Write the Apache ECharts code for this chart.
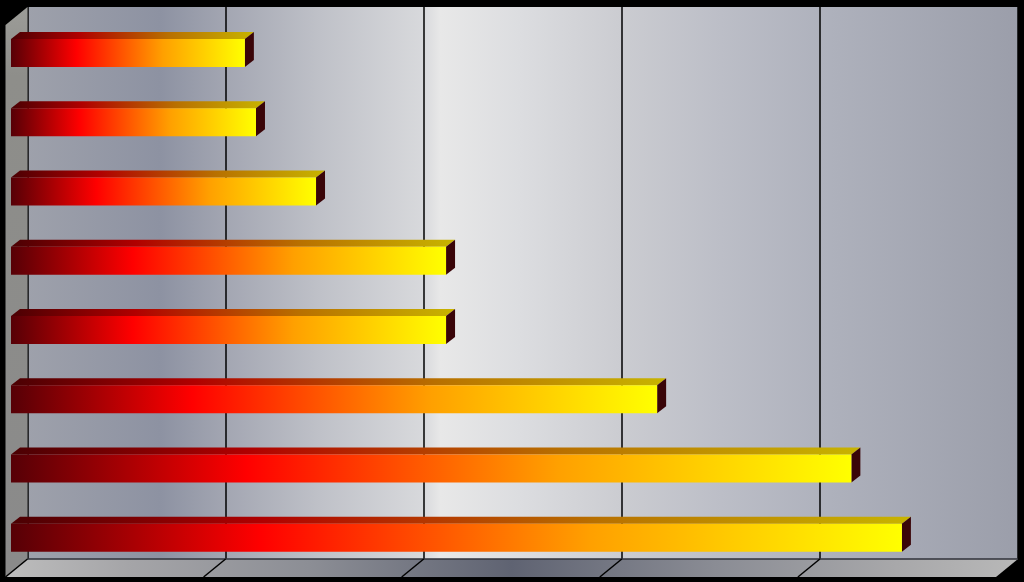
<!DOCTYPE html>
<html><head><meta charset="utf-8">
<style>html,body{margin:0;padding:0;background:#000}#c{width:1024px;height:582px}</style>
<script src="https://cdn.jsdelivr.net/npm/echarts@6/dist/echarts.min.js"></script>
</head><body><div id="c"></div>
<script>
const categories = ['H','G','F','E','D','C','B','A'];
const values = [1.18, 1.236, 1.539, 2.195, 2.195, 3.26, 4.24, 4.495];
const axisMin = 0, axisMax = 5, axisStep = 1;
const tickValues = [0, 1, 2, 3, 4, 5];

const lg = (x0,y0,x1,y1,stops)=>new echarts.graphic.LinearGradient(x0,y0,x1,y1,stops.map(s=>({offset:s[0],color:s[1]})));
const DX=22, DY=18;

function bars(params, api){
  const end = api.coord([api.value(0), api.value(1)]);
  const start = api.coord([0, api.value(1)]);
  const h = 28, ox = 9, oy = 7;
  const x0=start[0], x1=end[0], y0=end[1]-h/2, y1=end[1]+h/2;
  return {type:'group',children:[
    {type:'polygon',shape:{points:[[x0,y0],[x0+ox,y0-oy],[x1+ox,y0-oy],[x1,y0]]},
     style:{fill:lg(0,0,1,0,[[0,'#4a0003'],[0.28,'#b00000'],[0.65,'#b87000'],[1,'#c8b400']])}},
    {type:'polygon',shape:{points:[[x1,y0],[x1+ox,y0-oy],[x1+ox,y1-oy],[x1,y1]]},style:{fill:'#3a0508'}},
    {type:'rect',shape:{x:x0,y:y0,width:x1-x0,height:h},
     style:{fill:lg(0,0,1,0,[[0,'#560006'],[0.28,'#ff0000'],[0.65,'#ffa000'],[1,'#ffff00']])}}
  ]};
}
function wallBottom(api){
  return api.coord([axisMin,categories.length-1])[1]+api.size([0,1])[1]/2;
}
function floor(params, api){
  const a=api.coord([axisMin,0])[0], b=api.coord([axisMax,0])[0];
  const y=wallBottom(api);
  const children=[
    {type:'polygon',shape:{points:[[a,y],[b,y],[b-DX,y+DY],[a-DX,y+DY]]},
     style:{fill:lg(0,0,1,0,[[0,'#bdbdbd'],[0.12,'#a5a5a8'],[0.3,'#8c8e95'],[0.5,'#5f6372'],[0.7,'#8a8c94'],[0.88,'#a8a8aa'],[1,'#b8b8b8']])}},
    {type:'line',shape:{x1:a,y1:y,x2:b,y2:y},style:{stroke:'#30323a',lineWidth:1.5}}
  ];
  tickValues.slice(0,5).forEach(v=>{
    const x=api.coord([v,0])[0];
    children.push({type:'line',shape:{x1:x,y1:y,x2:x-DX,y2:y+DY},style:{stroke:'#000',lineWidth:1.5}});
  });
  return {type:'group',children};
}
function leftWall(params, api){
  const x=api.coord([axisMin,0])[0];
  const top=api.coord([axisMin,0])[1]-api.size([0,1])[1]/2, bot=wallBottom(api);
  return {type:'polygon',shape:{points:[[x,top],[x,bot],[x-DX,bot+DY],[x-DX,top+DY]]},
    style:{fill:lg(0,0,0,1,[[0,'#9c9c98'],[0.12,'#8e8e8a'],[1,'#8a8a8a']])}};
}

const chart = echarts.init(document.getElementById('c'));
chart.setOption({
  animation:false,
  backgroundColor:'#000',
  grid:[
    {left:27.5,top:7,width:990.5,height:552,show:true,borderWidth:0,
     backgroundColor:lg(0,0,1,0,[[0,'#9ea1ab'],[0.134,'#8d92a2'],[0.2,'#a3a6b2'],[0.295,'#bfc1c8'],[0.4,'#d8d9dc'],[0.417,'#e8e8e8'],[0.497,'#dcdde0'],[0.6,'#cbccd1'],[0.7,'#bcbec7'],[0.8,'#afb2bd'],[1,'#9b9eaa']])},
    {left:11,top:18.4,width:991,height:554}
  ],
  xAxis:[
    {gridIndex:0,type:'value',min:axisMin,max:axisMax,interval:axisStep,axisLabel:{show:false},axisLine:{show:false},axisTick:{show:false},
     splitLine:{show:true,lineStyle:{color:'#000',width:1.5}}},
    {gridIndex:1,type:'value',min:axisMin,max:axisMax,interval:axisStep,show:false}
  ],
  yAxis:[
    {gridIndex:0,type:'category',data:categories,inverse:true,show:false},
    {gridIndex:1,type:'category',data:categories,inverse:true,show:false}
  ],
  series:[
    {type:'custom',xAxisIndex:0,yAxisIndex:0,renderItem:leftWall,data:[[0,0]],z:1,silent:true},
    {type:'custom',xAxisIndex:0,yAxisIndex:0,renderItem:floor,data:[[0,0]],z:1,silent:true},
    {type:'custom',xAxisIndex:1,yAxisIndex:1,renderItem:bars,z:5,silent:true,
     encode:{x:0,y:1},data:values.map((v,i)=>[v,i])}
  ]
});
</script></body></html>
